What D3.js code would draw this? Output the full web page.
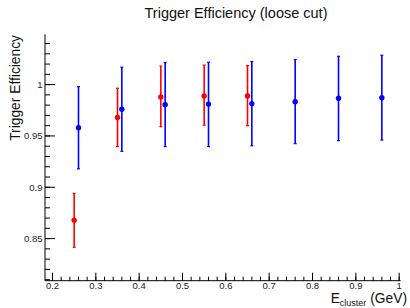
<!DOCTYPE html>
<html>
<head>
<meta charset="utf-8">
<script src="https://cdn.jsdelivr.net/npm/d3@7"></script>
<style>
  body { margin: 0; background: #fff; }
  text { font-family: "Liberation Sans", Arial, sans-serif; }
</style>
</head>
<body>
<div id="chart"></div>
<script>
// red series (first set)
var redX = [0.25, 0.35, 0.45, 0.55, 0.65];
var redY = [0.868, 0.968, 0.988, 0.989, 0.989];
var redLo = [0.8415, 0.9396, 0.959, 0.9604, 0.960];
var redHi = [0.894, 0.9965, 1.018, 1.019, 1.0185];

// blue series (second set)
var blueX = [0.26, 0.36, 0.46, 0.56, 0.66, 0.76, 0.86, 0.96];
var blueY = [0.958, 0.976, 0.9805, 0.981, 0.9815, 0.9834, 0.9867, 0.9873];
var blueLo = [0.918, 0.935, 0.9396, 0.9396, 0.9405, 0.9425, 0.9454, 0.946];
var blueHi = [0.998, 1.017, 1.0214, 1.0218, 1.0224, 1.0244, 1.0276, 1.0286];

var xTicks = [0.2, 0.3, 0.4, 0.5, 0.6, 0.7, 0.8, 0.9, 1.0];
var yTicks = [0.85, 0.9, 0.95, 1.0];

// dimensions
var W = 410, H = 308;
var margin = {top: 34.3, right: 9.3, bottom: 27.3, left: 45};
var width = W - margin.left - margin.right,
    height = H - margin.top - margin.bottom;

var svg = d3.select("#chart")
  .append("svg")
  .attr("width", W)
  .attr("height", H);

var g = svg.append("g")
  .attr("transform", "translate(" + margin.left + "," + margin.top + ")");

var x = d3.scaleLinear().domain([0.1827, 1.0035]).range([0, width]);
var y = d3.scaleLinear().domain([0.809, 1.049]).range([height, 0]);

// minor ticks
var xMinor = d3.range(0.2, 1.0001, 0.02).filter(function(v) { return x(v) >= 0 && x(v) <= width; });
var yMinor = d3.range(0.81, 1.0491, 0.01);

// x axis
var xAxis = g.append("g").attr("transform", "translate(0," + height + ")");
xAxis.append("line").attr("x1", 0).attr("x2", width).attr("stroke", "#000").attr("stroke-width", 1);
xAxis.selectAll(".xm").data(xMinor).enter().append("line")
  .attr("x1", function(d) { return x(d); }).attr("x2", function(d) { return x(d); })
  .attr("y1", 0).attr("y2", -4).attr("stroke", "#000");
xAxis.selectAll(".xM").data(xTicks).enter().append("line")
  .attr("x1", function(d) { return x(d); }).attr("x2", function(d) { return x(d); })
  .attr("y1", 0).attr("y2", -8).attr("stroke", "#000");
xAxis.selectAll(".xl").data(xTicks).enter().append("text")
  .attr("x", function(d) { return x(d); })
  .attr("y", 8.5)
  .attr("text-anchor", "middle")
  .style("font-size", "9.5px")
  .attr("fill", "#222")
  .text(function(d) { return +d.toFixed(1); });

// y axis
var yAxis = g.append("g");
yAxis.append("line").attr("y1", 0).attr("y2", height).attr("stroke", "#000").attr("stroke-width", 1);
yAxis.selectAll(".ym").data(yMinor).enter().append("line")
  .attr("y1", function(d) { return y(d); }).attr("y2", function(d) { return y(d); })
  .attr("x1", 0).attr("x2", 5).attr("stroke", "#000");
yAxis.selectAll(".yM").data(yTicks).enter().append("line")
  .attr("y1", function(d) { return y(d); }).attr("y2", function(d) { return y(d); })
  .attr("x1", 0).attr("x2", 10).attr("stroke", "#000");
yAxis.selectAll(".yl").data(yTicks).enter().append("text")
  .attr("x", -2.5)
  .attr("y", function(d) { return y(d) + 3.4; })
  .attr("text-anchor", "end")
  .style("font-size", "9.5px")
  .attr("fill", "#222")
  .text(function(d) { return +d.toFixed(2); });

// series drawing
function drawSeries(xs, ys, lo, hi, color) {
  var data = xs.map(function(v, i) { return {x: v, y: ys[i], lo: lo[i], hi: hi[i]}; });
  var s = g.append("g");
  s.selectAll(".eb").data(data).enter().append("line")
    .attr("x1", function(d) { return x(d.x); }).attr("x2", function(d) { return x(d.x); })
    .attr("y1", function(d) { return y(d.lo); }).attr("y2", function(d) { return y(d.hi); })
    .attr("stroke", color).attr("stroke-width", 1.6);
  ["lo", "hi"].forEach(function(k) {
    s.selectAll(".cap" + k).data(data).enter().append("line")
      .attr("x1", function(d) { return x(d.x) - 1.5; }).attr("x2", function(d) { return x(d.x) + 1.5; })
      .attr("y1", function(d) { return y(d[k]); }).attr("y2", function(d) { return y(d[k]); })
      .attr("stroke", color).attr("stroke-width", 1.2);
  });
  s.selectAll(".pt").data(data).enter().append("circle")
    .attr("cx", function(d) { return x(d.x); })
    .attr("cy", function(d) { return y(d.y); })
    .attr("r", 2.7)
    .attr("fill", color);
}
drawSeries(redX, redY, redLo, redHi, "#ff0000");
drawSeries(blueX, blueY, blueLo, blueHi, "#0000ff");

// title
svg.append("text")
  .attr("x", 236)
  .attr("y", 17.5)
  .attr("text-anchor", "middle")
  .style("font-size", "14.5px")
  .attr("fill", "#111")
  .text("Trigger Efficiency (loose cut)");

// y title
svg.append("text")
  .attr("transform", "translate(20,35) rotate(-90)")
  .attr("text-anchor", "end")
  .style("font-size", "13.8px")
  .attr("fill", "#111")
  .text("Trigger Efficiency");

// x title
var xt = svg.append("text")
  .attr("x", 407)
  .attr("y", 303)
  .attr("text-anchor", "end")
  .style("font-size", "13.8px")
  .attr("fill", "#111");
xt.append("tspan").text("E");
xt.append("tspan").attr("dy", 3).style("font-size", "9px").text("cluster");
xt.append("tspan").attr("dy", -3).text(" (GeV)");
</script>
</body>
</html>
